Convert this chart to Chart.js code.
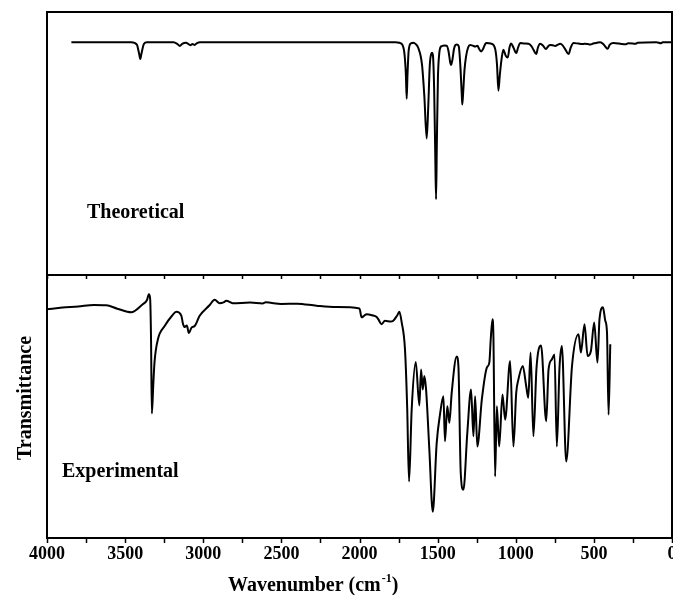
<!DOCTYPE html>
<html>
<head>
<meta charset="utf-8">
<script src="https://cdn.jsdelivr.net/npm/chart.js@4.4.1/dist/chart.umd.min.js"></script>
<style>
  html, body { margin: 0; padding: 0; background: #fff; }
  canvas { display: block; }
</style>
</head>
<body>
<canvas id="irChart" width="673" height="595"></canvas>
<script>
// Theoretical (calculated) spectrum
const theoWavenumbers = [
  3844, 3460, 3425, 3410, 3403, 3396, 3380, 3360, 3190, 3165, 3150, 3135, 3110, 3090, 3080, 3070, 3055, 3040, 3020,
  1770, 1745, 1725, 1712, 1703, 1698, 1693, 1685, 1670, 1655, 1640, 1625, 1600, 1585, 1570, 1560, 1550, 1540, 1536,
  1530, 1522, 1515, 1510, 1505, 1498, 1490, 1480, 1474, 1460, 1442, 1430, 1420, 1414, 1405, 1395, 1385, 1378, 1365,
  1355, 1345, 1342, 1336, 1328, 1318, 1305, 1292, 1275, 1260, 1245, 1235, 1222, 1210, 1195, 1185, 1160, 1143, 1130,
  1120, 1111, 1102, 1090, 1079, 1065, 1051, 1040, 1030, 1015, 997, 985, 972, 945, 919, 900, 885, 869, 858, 844,
  825, 807, 792, 779, 760, 747, 730, 715, 700, 680, 662, 648, 630, 600, 575, 560, 540, 523, 500, 480, 459, 440,
  425, 412, 398, 374, 340, 320, 299, 280, 250, 235, 220, 100, 70, 60, 0
];
const theoTransmittance = [
  88.5, 88.5, 87.6, 84, 82.1, 84, 87.8, 88.5, 88.5, 87.8, 87.1, 87.9, 88.3, 87.6, 87.4, 87.8, 87.5, 88.2, 88.5,
  88.5, 88.3, 87.5, 84, 76, 67.0, 76, 85.5, 88.1, 88.3, 87.8, 86.5, 80, 68, 51.9, 64, 80, 84.2, 84.5,
  83.5, 70, 45, 28.8, 50, 75, 84, 86.8, 87.0, 87.3, 87.2, 85, 81, 79.9, 82, 86, 87.5, 87.6, 87,
  80, 68, 64.8, 70, 78, 83.1, 86.5, 87.5, 87.2, 86.9, 87.2, 86, 85.0, 85.8, 87.9, 88.2, 88.0, 87.5, 85.5,
  80, 70.1, 76, 82.5, 85.6, 83.5, 82.7, 86.5, 88, 86.5, 84.4, 86.5, 88.2, 88.0, 87.9, 87.0, 85.5, 84.0, 86.5, 87.9,
  87.2, 85.9, 87.0, 87.5, 87.3, 87.1, 87.6, 87.9, 87.3, 85.5, 84.0, 86.5, 88.2, 88.0, 87.8, 87.9, 87.8, 87.6, 88.1, 88.3, 88.5, 87.8,
  86.7, 86.0, 87.6, 88.2, 88.0, 87.8, 87.7, 88.1, 88.0, 87.9, 88.3, 88.5, 88.1, 88.5, 88.5
];

const expWavenumbers = [
  4000, 3900, 3800, 3700, 3621, 3550, 3461, 3387, 3360, 3348,
  3340, 3334, 3329, 3320, 3312, 3290, 3247, 3200, 3172, 3140,
  3130, 3119, 3105, 3092, 3075, 3055, 3023, 2960, 2927, 2895,
  2870, 2852, 2812, 2700, 2620, 2600, 2500, 2400, 2275, 2150,
  2000, 1987, 1970, 1955, 1920, 1890, 1880, 1859, 1837, 1800,
  1784, 1760, 1745, 1730, 1709, 1695, 1683, 1666, 1640, 1617,
  1606, 1595, 1585, 1574, 1553, 1531, 1506, 1485, 1463, 1453,
  1438, 1425, 1410, 1378, 1367, 1352, 1335, 1310, 1286, 1271,
  1260, 1246, 1217, 1185, 1169, 1160, 1149, 1143, 1132, 1121,
  1106, 1085, 1068, 1036, 1015, 997, 983, 955, 933, 920,
  905, 887, 867, 838, 805, 790, 769, 752, 737, 720,
  705, 677, 640, 598, 583, 560, 540, 519, 498, 477,
  464, 442, 427, 416, 406, 395
];
const expTransmittance = [
  87.0, 87.6, 88.0, 88.6, 88.5, 87.2, 85.8, 88.9, 90.5, 92.7,
  91.0, 75, 47.3, 58, 66.8, 75.6, 80.6, 84.5, 86.0, 84.5,
  81.5, 80.2, 80.8, 77.9, 80.0, 80.6, 84.5, 88.5, 90.6, 89.3,
  89.6, 90.2, 89.3, 89.5, 89.2, 89.6, 89.0, 89.1, 88.3, 87.8,
  87.3, 83.9, 84.5, 85.1, 84.7, 84.0, 83.2, 81.3, 82.6, 82.3,
  82.6, 84.5, 86.0, 82, 71.8, 50, 21.5, 48.9, 66.9, 50.4,
  64.1, 56.5, 61.6, 56.5, 33.6, 10.0, 36.1, 46.9, 53.9, 36.8,
  50.1, 43.8, 55.2, 69.0, 65.4, 24.7, 18.3, 40, 56.5, 38.7,
  53.9, 34.8, 52.7, 64.8, 66.7, 75.6, 83.2, 76.8, 23.4, 50.1,
  34.8, 54.6, 45.0, 67.3, 34.8, 55.2, 60.3, 65.4, 57.7, 53.3,
  70.5, 38.7, 64.8, 73.2, 44.4, 64.1, 67.9, 69.8, 34.8, 64.8,
  73.0, 29.1, 65.4, 77.5, 70.5, 81.3, 69.2, 71.1, 81.9, 66.7,
  83.2, 87.7, 82.6, 78.1, 46.9, 73.7
];

const xTickLabels = [4000, 3500, 3000, 2500, 2000, 1500, 1000, 500, 0];
const xTickMarks = [4000, 3750, 3500, 3250, 3000, 2750, 2500, 2250, 2000, 1750, 1500, 1250, 1000, 750, 500, 250, 0];
const panelLabels = ['Theoretical', 'Experimental'];

const serif = '"Liberation Serif", "Times New Roman", serif';

// frame, divider, ticks and all the text
const framePlugin = {
  id: 'frame',
  afterDraw(chart) {
    const { ctx, chartArea: a, scales } = chart;
    const xs = scales.x;
    const split = scales.yTheo.bottom;
    ctx.save();
    ctx.strokeStyle = '#000';
    ctx.fillStyle = '#000';
    ctx.lineWidth = 2;
    ctx.strokeRect(a.left, a.top, a.right - a.left, a.bottom - a.top);
    ctx.beginPath();
    ctx.moveTo(a.left, split);
    ctx.lineTo(a.right, split);
    ctx.stroke();

    ctx.lineWidth = 1.5;
    ctx.beginPath();
    xTickMarks.forEach(v => {
      const px = Math.round(xs.getPixelForValue(v)) + 0.5;
      ctx.moveTo(px, split);
      ctx.lineTo(px, split + 4);
      ctx.moveTo(px, a.bottom);
      ctx.lineTo(px, a.bottom + 5);
    });
    ctx.stroke();

    ctx.font = 'bold 18px ' + serif;
    ctx.textAlign = 'center';
    ctx.textBaseline = 'alphabetic';
    xTickLabels.forEach(v => {
      ctx.fillText(String(v), xs.getPixelForValue(v), 559);
    });

    ctx.font = 'bold 20px ' + serif;
    ctx.textAlign = 'left';
    ctx.fillText(panelLabels[0], 87, 218);
    ctx.fillText(panelLabels[1], 62, 477);

    // y title
    ctx.save();
    ctx.translate(31, 398);
    ctx.rotate(-Math.PI / 2);
    ctx.textAlign = 'center';
    ctx.fillText('Transmittance', 0, 0);
    ctx.restore();

    // x title with superscript
    let tx = 228;
    const base = 591;
    ctx.textAlign = 'left';
    ctx.font = 'bold 20px ' + serif;
    ctx.fillText('Wavenumber (cm', tx, base);
    tx += ctx.measureText('Wavenumber (cm').width;
    ctx.font = 'bold 12px ' + serif;
    ctx.fillText('-1', tx + 1, base - 9);
    tx += ctx.measureText('-1').width + 1;
    ctx.font = 'bold 20px ' + serif;
    ctx.fillText(')', tx, base);
    ctx.restore();
  }
};

const toPoints = (xs, ys) => xs.map((x, i) => ({ x: x, y: ys[i] }));

const hiddenY = {
  type: 'linear',
  min: 0,
  max: 100,
  position: 'left',
  stack: 'panels',
  stackWeight: 1,
  display: true,
  ticks: { display: false },
  grid: { display: false },
  border: { display: false },
  afterFit: s => { s.width = 0; }
};

new Chart(document.getElementById('irChart'), {
  type: 'line',
  data: {
    datasets: [{
      label: 'Theoretical',
      data: toPoints(theoWavenumbers, theoTransmittance),
      yAxisID: 'yTheo',
      borderColor: '#000',
      borderWidth: 2,
      pointRadius: 0,
      cubicInterpolationMode: 'monotone',
      fill: false
    }, {
      label: 'Experimental',
      data: toPoints(expWavenumbers, expTransmittance),
      yAxisID: 'yExp',
      borderColor: '#000',
      borderWidth: 2,
      pointRadius: 0,
      cubicInterpolationMode: 'monotone',
      fill: false
    }]
  },
  options: {
    responsive: false,
    animation: false,
    devicePixelRatio: 1,
    layout: { padding: { left: 47, right: 1, top: 12, bottom: 57 } },
    plugins: { legend: { display: false }, tooltip: { enabled: false } },
    scales: {
      x: { type: 'linear', reverse: true, min: 0, max: 4000, display: false },
      // stacked panels: the scale listed last is placed on top
      yExp: Object.assign({}, hiddenY),
      yTheo: Object.assign({}, hiddenY)
    }
  },
  plugins: [framePlugin]
});
</script>
</body>
</html>
